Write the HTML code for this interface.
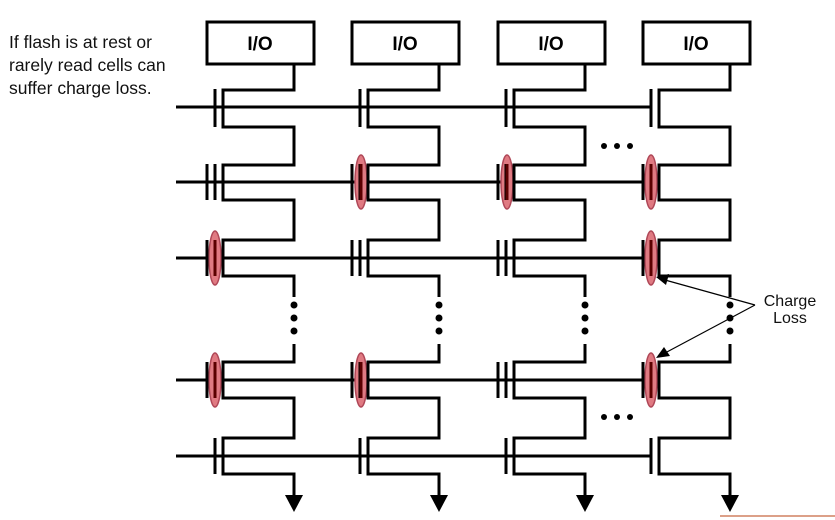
<!DOCTYPE html>
<html><head><meta charset="utf-8"><style>
html,body{margin:0;padding:0;background:#fff;}
svg{display:block;}
</style></head><body>
<svg width="835" height="520" viewBox="0 0 835 520" xmlns="http://www.w3.org/2000/svg">
<g font-family="Liberation Sans, Arial, sans-serif" font-size="17.5" fill="#111">
<text x="9" y="48">If flash is at rest or</text>
<text x="9" y="71">rarely read cells can</text>
<text x="9" y="94">suffer charge loss.</text>
</g>
<g stroke="#000" stroke-width="3" fill="#fff">
<rect x="207" y="22" width="107" height="42"/>
<rect x="352" y="22" width="107" height="42"/>
<rect x="498" y="22" width="107" height="42"/>
<rect x="643" y="22" width="107" height="42"/>
</g>
<g font-family="Liberation Sans, Arial, sans-serif" font-size="19" font-weight="bold" text-anchor="middle" fill="#000">
<text x="260" y="50">I/O</text>
<text x="405" y="50">I/O</text>
<text x="551" y="50">I/O</text>
<text x="696" y="50">I/O</text>
</g>
<g stroke="#000" stroke-width="3">
<line x1="176" y1="107" x2="652" y2="107"/>
<line x1="176" y1="182" x2="643" y2="182"/>
<line x1="176" y1="258" x2="643" y2="258"/>
<line x1="176" y1="380" x2="643" y2="380"/>
<line x1="176" y1="456" x2="652" y2="456"/>
</g>
<g fill="#e07a82" stroke="#b04858" stroke-width="1.5">
<ellipse cx="361" cy="182" rx="6" ry="27"/>
<ellipse cx="507" cy="182" rx="6" ry="27"/>
<ellipse cx="651" cy="182" rx="6" ry="27"/>
<ellipse cx="215" cy="258" rx="6" ry="27"/>
<ellipse cx="651" cy="258" rx="6" ry="27"/>
<ellipse cx="215" cy="380" rx="6" ry="27"/>
<ellipse cx="361" cy="380" rx="6" ry="27"/>
<ellipse cx="651" cy="380" rx="6" ry="27"/>
</g>
<g stroke="#000" stroke-width="3" fill="none">
<g id="col">
<path d="M294 64 V90 H223 V127 H294 V165 H223 V200 H294 V240 H223 V276 H294 V297"/>
<path d="M294 344 V362 H223 V398 H294 V438 H223 V474 H294 V496"/>
<line x1="215" y1="89" x2="215" y2="127"/>
<line x1="207" y1="164" x2="207" y2="200"/><line x1="215" y1="164" x2="215" y2="200"/>
<line x1="207" y1="240" x2="207" y2="276"/><line x1="215" y1="240" x2="215" y2="276"/>
<line x1="207" y1="362" x2="207" y2="398"/><line x1="215" y1="362" x2="215" y2="398"/>
<line x1="215" y1="438" x2="215" y2="474"/>
<polygon points="285,495 303,495 294,512" fill="#000" stroke="none"/>
<circle cx="294" cy="305" r="3.5" fill="#000" stroke="none"/>
<circle cx="294" cy="318" r="3.5" fill="#000" stroke="none"/>
<circle cx="294" cy="331" r="3.5" fill="#000" stroke="none"/>
</g>
<use href="#col" transform="translate(145,0)"/>
<use href="#col" transform="translate(291,0)"/>
<use href="#col" transform="translate(436,0)"/>
</g>
<g stroke="#5a0000" stroke-width="3">
<line x1="361" y1="164" x2="361" y2="200"/>
<line x1="507" y1="164" x2="507" y2="200"/>
<line x1="651" y1="164" x2="651" y2="200"/>
<line x1="215" y1="240" x2="215" y2="276"/>
<line x1="651" y1="240" x2="651" y2="276"/>
<line x1="215" y1="362" x2="215" y2="398"/>
<line x1="361" y1="362" x2="361" y2="398"/>
<line x1="651" y1="362" x2="651" y2="398"/>
</g>
<g fill="#000">
<circle cx="604" cy="146" r="3"/><circle cx="617" cy="146" r="3"/><circle cx="630" cy="146" r="3"/>
<circle cx="604" cy="417" r="3"/><circle cx="617" cy="417" r="3"/><circle cx="630" cy="417" r="3"/>
</g>
<g stroke="#000" stroke-width="1.2">
<line x1="755" y1="305" x2="665" y2="280"/>
<line x1="755" y1="305" x2="665" y2="353"/>
</g>
<polygon points="656,277 669,274 666,285" fill="#000"/>
<polygon points="656,358 664,347 670,356" fill="#000"/>
<g font-family="Liberation Sans, Arial, sans-serif" font-size="16" text-anchor="middle" fill="#111">
<text x="790" y="306">Charge</text>
<text x="790" y="323">Loss</text>
</g>
<line x1="720" y1="516" x2="835" y2="516" stroke="#d08060" stroke-width="1.5"/>
</svg>
</body></html>
